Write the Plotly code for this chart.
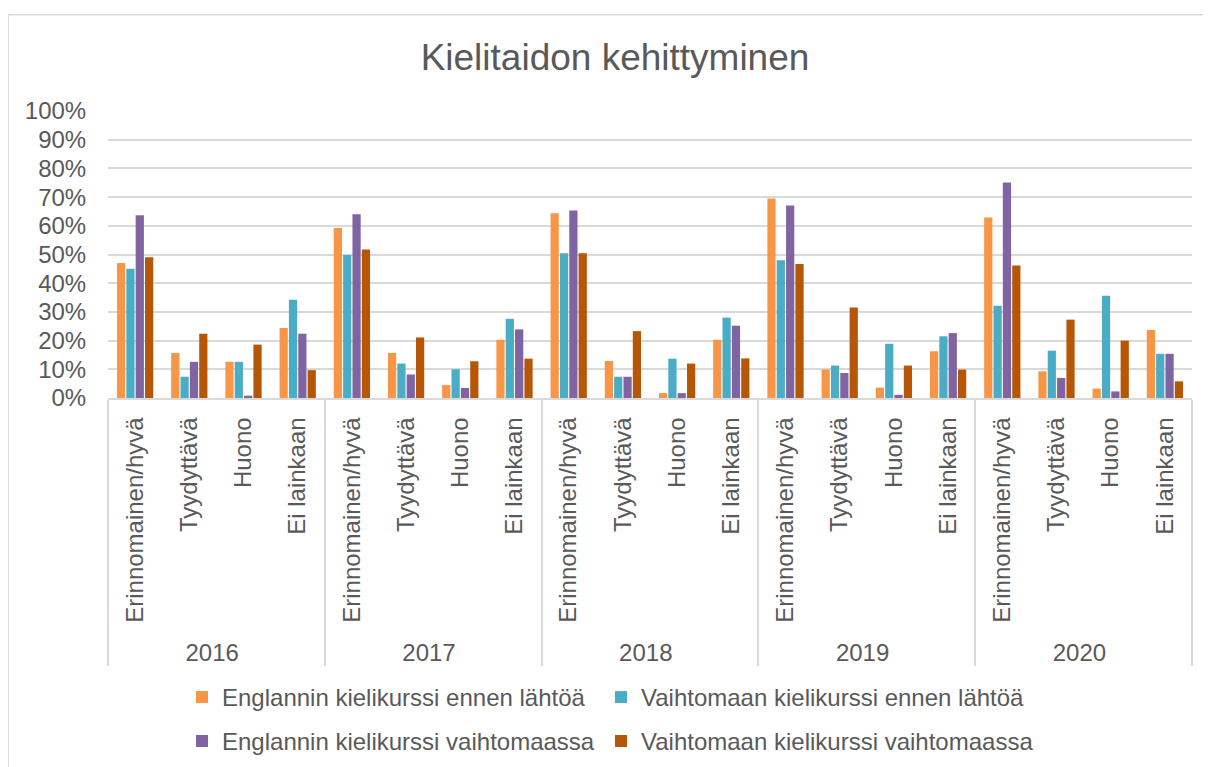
import plotly.graph_objects as go

years = ["2016", "2017", "2018", "2019", "2020"]
levels = ["Erinnomainen/hyvä", "Tyydyttävä", "Huono", "Ei lainkaan"]

series_names = [
    "Englannin kielikurssi ennen lähtöä",
    "Vaihtomaan kielikurssi ennen lähtöä",
    "Englannin kielikurssi vaihtomaassa",
    "Vaihtomaan kielikurssi vaihtomaassa",
]

eng_before = [47.0, 15.7, 12.6, 24.4, 59.2, 15.7, 4.5, 20.3, 64.4, 12.9, 1.7, 20.3,
              69.5, 9.9, 3.6, 16.3, 62.9, 9.3, 3.3, 23.7]
host_before = [45.0, 7.4, 12.6, 34.2, 49.8, 12.0, 10.0, 27.6, 50.4, 7.4, 13.7, 28.0,
               48.0, 11.3, 18.9, 21.5, 32.1, 16.5, 35.6, 15.4]
eng_abroad = [63.7, 12.6, 0.8, 22.4, 64.0, 8.2, 3.5, 23.9, 65.3, 7.4, 1.7, 25.2,
              67.1, 8.7, 1.1, 22.6, 75.1, 7.0, 2.3, 15.4]
host_abroad = [49.0, 22.4, 18.6, 9.7, 51.7, 21.1, 12.8, 13.7, 50.4, 23.3, 12.0, 13.8,
               46.7, 31.5, 11.3, 9.9, 46.2, 27.3, 20.0, 5.8]

colors = ["#F79646", "#4BACC6", "#8064A2", "#B65708"]
legend_ids = ["legend", "legend2", "legend3", "legend4"]

x_years = [y for y in years for _ in levels]
x_levels = [l for _ in years for l in levels]

W, H = 1211, 767
OFF = 8  # page body margin
# target plot area in page pixels
PL, PR, PT, PB = 108, 1192, 110.5, 398.5
L = PL - OFF
T = PT - OFF
R = W - (PR - OFF)
B = H - (PB - OFF)
plot_w = W - L - R
plot_h = H - T - B

def px_x(p):  # page pixel -> paper
    return (p - PL) / plot_w

def px_y(p):
    return (PB - p) / plot_h

fig = go.Figure()
for name, vals, col, lg in zip(series_names, [eng_before, host_before, eng_abroad, host_abroad],
                              colors, legend_ids):
    fig.add_trace(go.Bar(
        x=[x_years, x_levels], y=vals, name=name,
        marker=dict(color=col, line=dict(width=0)),
        legend=lg,
    ))

font_family = "Liberation Sans, Arial, sans-serif"
txt = "#595959"
FS = 24

legend_pos = {"legend": (182, 699), "legend2": (601, 699),
              "legend3": (182, 743), "legend4": (601, 743)}
legend_cfg = {}
for key, (lx, ly) in legend_pos.items():
    legend_cfg[key] = dict(orientation="h", x=px_x(lx), xanchor="left", y=px_y(ly),
                           yanchor="middle", font=dict(size=FS, color=txt),
                           bgcolor="rgba(0,0,0,0)")

fig.update_layout(
    width=W, height=H,
    margin=dict(l=L, r=R, t=T, b=B, autoexpand=False),
    paper_bgcolor="white", plot_bgcolor="white",
    font=dict(family=font_family, color=txt, size=FS),
    title=dict(text="Kielitaidon kehittyminen", x=(615 - OFF) / W, xref="container",
               y=1 - (57 - OFF) / H, yref="container", xanchor="center", yanchor="middle",
               font=dict(size=37, color=txt, family=font_family)),
    barmode="group", bargap=0.31, bargroupgap=0.12,
    showlegend=True,
    **legend_cfg,
)

fig.update_yaxes(range=[0, 100], dtick=10, ticksuffix="%", showgrid=True,
                 gridcolor="#D9D9D9", gridwidth=1.5, zeroline=False,
                 ticks="outside", ticklen=16, tickcolor="rgba(0,0,0,0)",
                 tickfont=dict(size=FS, color=txt), showline=False)
fig.update_xaxes(type="multicategory", tickangle=-90, showline=True, linecolor="#D9D9D9",
                 linewidth=1.5, showdividers=True, dividercolor="#D9D9D9", dividerwidth=1.5,
                 tickfont=dict(size=FS, color=txt), ticks="", ticklabelstandoff=8)

fig.add_shape(type="rect", xref="paper", yref="paper",
              x0=px_x(8), x1=px_x(1230), y0=px_y(14), y1=px_y(790),
              line=dict(color="#D9D9D9", width=1.5), fillcolor="rgba(0,0,0,0)", layer="below")

fig.write_html("out.html")
